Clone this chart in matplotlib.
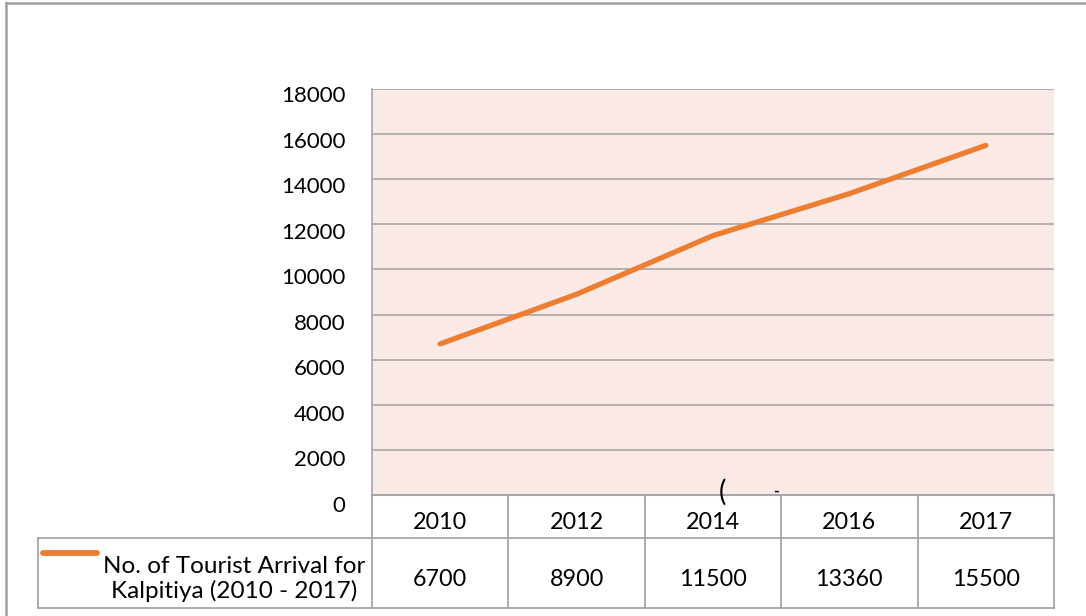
import matplotlib
matplotlib.use("Agg")
import matplotlib.pyplot as plt
from matplotlib.lines import Line2D
from matplotlib.transforms import ScaledTranslation, blended_transform_factory

years = ["2010", "2012", "2014", "2016", "2017"]
arrivals = [6700, 8900, 11500, 13360, 15500]
series_name = "No. of Tourist Arrival for\nKalpitiya (2010 - 2017)"
y_ticks = [0, 2000, 4000, 6000, 8000, 10000, 12000, 14000, 16000, 18000]

plt.rcParams['font.family'] = ['Lato', 'DejaVu Sans']

W, H = 1086, 616
fig = plt.figure(figsize=(W / 100, H / 100), dpi=100)
fig.patch.set_facecolor("white")

grid_c = "#A6A6A6"
line_c = "#ED7D31"
bg_c = "#FBE9E5"

ax = fig.add_axes([372 / W, (H - 495) / H, 682 / W, 406 / H])
ax.set_facecolor(bg_c)
x = list(range(len(years)))
ax.plot(x, arrivals, color=line_c, lw=3.8, solid_capstyle="round", solid_joinstyle="round", zorder=3)
ax.set_xlim(-0.5, len(years) - 0.5)
ax.set_ylim(0, 18000)
ax.set_yticks(y_ticks)
ax.set_yticklabels([str(v) for v in y_ticks])
ax.set_xticks([])
ax.yaxis.grid(True, color=grid_c, lw=1.2)
ax.set_axisbelow(True)
for s in ["right", "top"]:
    ax.spines[s].set_visible(False)
ax.spines["left"].set_color(grid_c)
ax.spines["left"].set_linewidth(1.2)
ax.spines["bottom"].set_color(grid_c)
ax.spines["bottom"].set_linewidth(1.5)
ax.tick_params(axis="y", length=0, pad=19, labelsize=16, labelcolor="black")
for v, lab in zip(y_ticks, ax.get_yticklabels()):
    dy = 5 + 4 * (1 - v / 18000)
    lab.set_transform(lab.get_transform() + ScaledTranslation(0, -dy / 100, fig.dpi_scale_trans))

# data table below the axes (x in data units, y in axes fraction)
tr = blended_transform_factory(ax.transData, ax.transAxes)
ph = 406.0
r1 = -43 / ph
r2 = -113 / ph
left_data = -0.5 + (38 - 372) / 682 * len(years)
n = len(years)
kw = dict(color=grid_c, lw=1.3, transform=tr, clip_on=False)
ax.add_line(Line2D([left_data, n - 0.5], [r1, r1], **kw))
ax.add_line(Line2D([left_data, n - 0.5], [r2, r2], **kw))
ax.add_line(Line2D([left_data, left_data], [r1, r2], **kw))
for i in range(n + 1):
    ax.add_line(Line2D([i - 0.5, i - 0.5], [0, r2], **kw))
shift = 6 / ph
for i, (yr, v) in enumerate(zip(years, arrivals)):
    ax.text(i, r1 / 2 - shift, yr, transform=tr, ha="center", va="center", fontsize=16.8)
    ax.text(i, (r1 + r2) / 2 - shift, str(v), transform=tr, ha="center", va="center", fontsize=16.8)

# legend key in the table row
leg_x0 = -0.5 + (43 - 372) / 682 * n
leg_x1 = -0.5 + (97 - 372) / 682 * n
leg_y = (495 - 553) / ph
ax.add_line(Line2D([leg_x0, leg_x1], [leg_y, leg_y], color=line_c, lw=4.2,
                   solid_capstyle="round", transform=tr, clip_on=False))
txt_x = -0.5 + (234 - 372) / 682 * n
ax.text(txt_x, (r1 + r2) / 2 - 6 / ph, series_name, transform=tr, ha="center", va="center",
        fontsize=17.5, linespacing=1.2, multialignment="center")

# stray marks from the source image
ax.text(-0.5 + (722 - 372) / 682 * n, (495 - 492) / ph, "(", transform=tr, ha="center",
        va="center", fontsize=20, clip_on=False)
ax.text(-0.5 + (776 - 372) / 682 * n, (495 - 492) / ph, "-", transform=tr, ha="center",
        va="center", fontsize=11, fontweight="bold", clip_on=False)

# outer frame
fkw = dict(color="#A0A0A0", lw=1.8, transform=fig.transFigure)
fig.add_artist(Line2D([6 / W, 1], [1 - 3 / H, 1 - 3 / H], **fkw))
fig.add_artist(Line2D([6 / W, 6 / W], [0, 1 - 3 / H], **fkw))

fig.savefig("out.png", dpi=100)
